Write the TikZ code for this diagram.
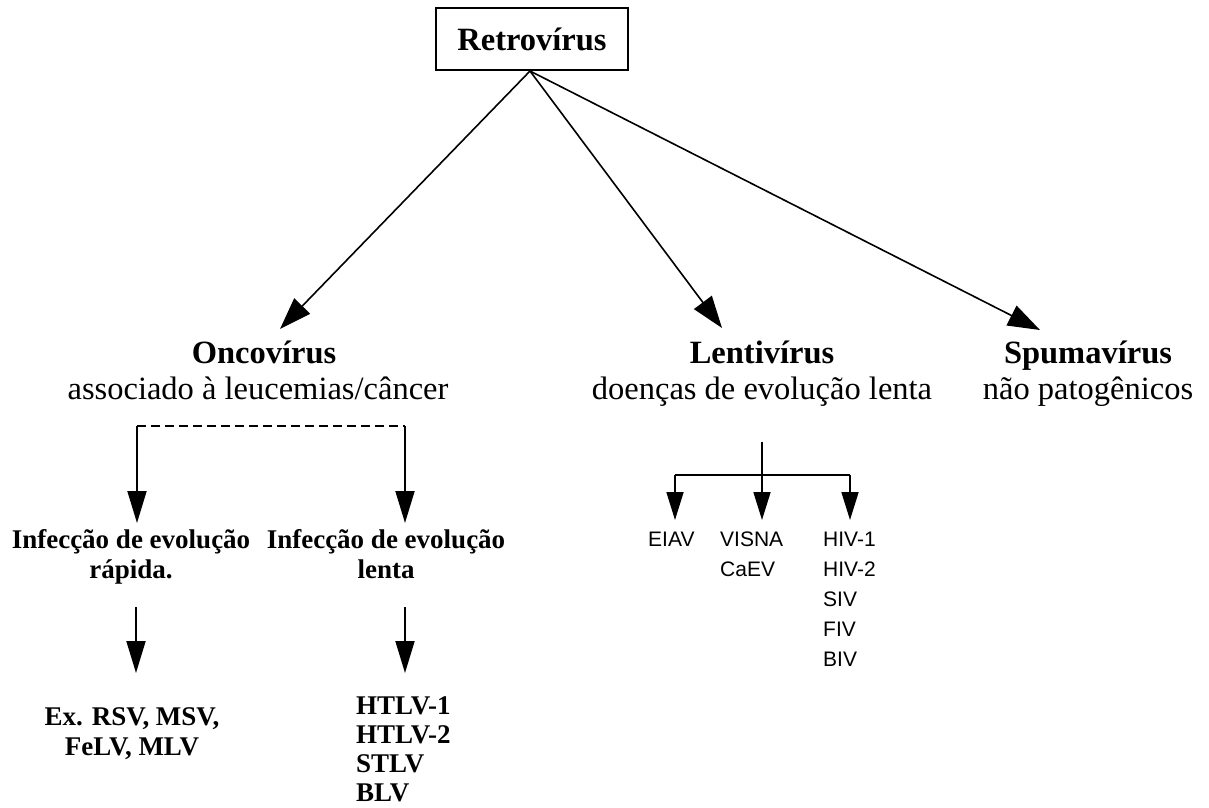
\documentclass[tikz,border=0pt]{standalone}
\usepackage{fontspec}
\setmainfont{Liberation Serif}
\newfontfamily\arialfont{Liberation Sans}
\usetikzlibrary{arrows.meta}
\begin{document}
\begin{tikzpicture}[x=1pt,y=-1pt,
  title/.style={font=\bfseries\fontsize{32.5}{36}\selectfont, inner sep=0pt, anchor=base},
  sub/.style={font=\fontsize{32.5}{36}\selectfont, inner sep=0pt, anchor=base},
  small/.style={font=\bfseries\fontsize{27}{30}\selectfont, inner sep=0pt, align=center, anchor=north},
  sans/.style={font=\arialfont\fontsize{21}{30}\selectfont, inner sep=0pt, align=left, anchor=north west},
  arr/.style={-{Triangle[length=32pt,width=22pt]}, line width=1.6pt},
  varr/.style={-{Triangle[length=32pt,width=19pt]}, line width=1.9pt},
  sarr/.style={-{Triangle[length=28pt,width=17pt]}, line width=1.7pt},
  boxed/.style={draw, line width=1.8pt, minimum width=192pt, minimum height=62pt, font=\bfseries\fontsize{32.5}{36}\selectfont}
]
\useasboundingbox (0,0) rectangle (1209,807);

% root
\node[boxed] (root) at (532,39) {Retrovírus};
\coordinate (src) at (530,71);

% level 1
\node[title] (onco) at (264,363) {Oncovírus};
\node[sub] (oncosub) at (258,399) {associado à leucemias/câncer};
\node[title] (lenti) at (762,363) {Lentivírus};
\node[sub] (lentisub) at (762,399) {doenças de evolução lenta};
\node[title] (spuma) at (1088,363) {Spumavírus};
\node[sub] (spumasub) at (1088,399) {não patogênicos};

\coordinate (t1) at (280,329);
\coordinate (t2) at (722,328);
\coordinate (t3) at (1040,330);
\draw[arr] (src) -- (t1);
\draw[arr] (src) -- (t2);
\draw[arr] (src) -- (t3);

% oncovirus branch
\coordinate (dl) at (137,426);
\coordinate (dr) at (405,426);
\draw[dashed, dash pattern=on 9pt off 5pt, line width=1.4pt] (dl) -- (dr);
\node[small] (rapida) at (131,529.5) {Infecção de evolução\\rápida.};
\node[small] (lenta) at (386,529.5) {Infecção de evolução\\lenta};
\coordinate (dlt) at (137,523);
\coordinate (drt) at (405,523);
\draw[varr] (dl) -- (dlt);
\draw[varr] (dr) -- (drt);

\coordinate (a1s) at (136,607);
\coordinate (a1e) at (136,673);
\coordinate (a2s) at (405,607);
\coordinate (a2e) at (405,673);
\draw[varr] (a1s) -- (a1e);
\draw[varr] (a2s) -- (a2e);

\node[small] (ex) at (132,707) {Ex. RSV, MSV,\\FeLV, MLV};
\node[small, align=left, anchor=north west, font=\bfseries\fontsize{27}{29}\selectfont] (htlv) at (356,696) {HTLV-1\\HTLV-2\\STLV\\BLV};

% lentivirus branch
\coordinate (lt) at (762,442);
\coordinate (lh) at (762,475);
\coordinate (lhl) at (675,475);
\coordinate (lhr) at (850,475);
\coordinate (lm) at (762,520);
\coordinate (ll) at (675,520);
\coordinate (lr) at (850,520);
\draw[line width=1.7pt] (lt) -- (lh);
\draw[line width=1.7pt] (lhl) -- (lhr);
\draw[sarr] (lh) -- (lm);
\draw[sarr] (lhl) -- (ll);
\draw[sarr] (lhr) -- (lr);

\node[sans] (eiav) at (648,532) {EIAV};
\node[sans] (visna) at (720,532) {VISNA\\CaEV};
\node[sans] (hiv) at (823,532) {HIV-1\\HIV-2\\SIV\\FIV\\BIV};
\end{tikzpicture}
\end{document}
